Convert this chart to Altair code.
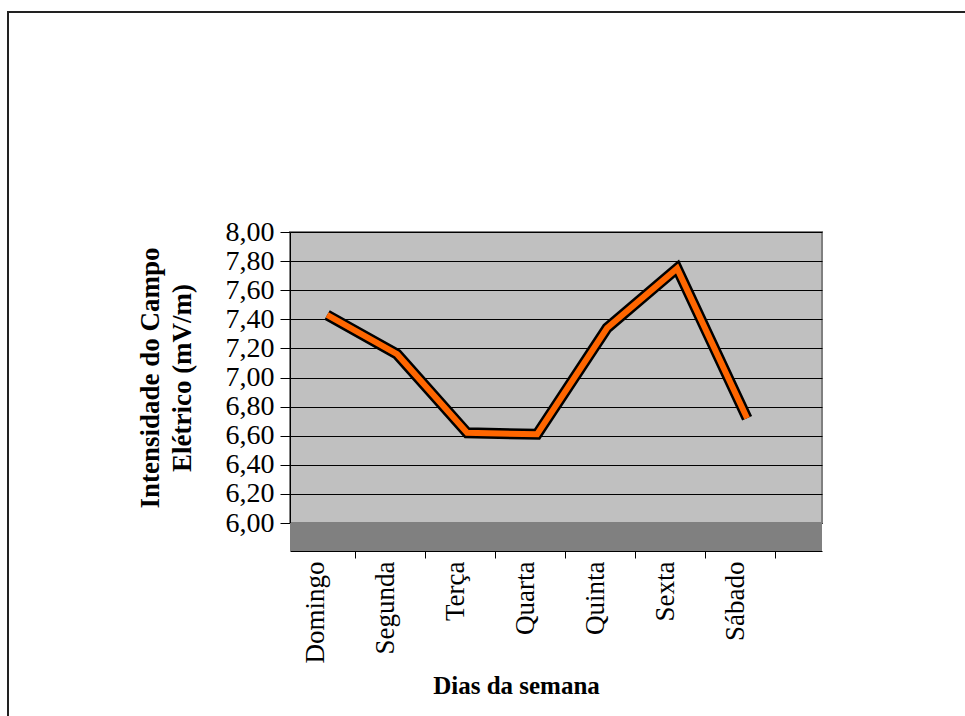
import altair as alt
import pandas as pd

# Daily electric field intensity (mV/m)
dias = ["Domingo", "Segunda", "Terça", "Quarta", "Quinta", "Sexta", "Sábado"]
intensidade = [7.43, 7.16, 6.62, 6.61, 7.34, 7.75, 6.72]
y_ticks = [6.0, 6.2, 6.4, 6.6, 6.8, 7.0, 7.2, 7.4, 7.6, 7.8, 8.0]

W, H = 532, 291
FLOOR = 28
FONT = "Liberation Serif"
LEFT, TOP = 290, 232

df = pd.DataFrame({"idx": list(range(len(dias))), "dia": dias, "valor": intensidade})

label_expr = "[" + ",".join("'" + d + "'" for d in dias) + "][datum.value]"

x_enc = alt.X(
    "idx:Q",
    scale=alt.Scale(domain=[-0.53, 7.07], nice=False, zero=False),
    axis=alt.Axis(
        values=list(range(len(dias))),
        tickCount=len(dias),
        labelExpr=label_expr,
        labelAngle=270,
        labelFont=FONT,
        labelFontSize=27,
        labelColor="black",
        labelPadding=3,
        labelOffset=-40,
        labelOverlap=False,
        offset=FLOOR,
        domainColor="black",
        tickColor="black",
        tickSize=7,
        tickOffset=28,
        grid=False,
        title="Dias da semana",
        titleFont=FONT,
        titleFontSize=25,
        titleFontWeight="bold",
        titleColor="black",
        titleX=516 - LEFT,
        titleAnchor="start",
        titleAlign="center",
        titlePadding=10,
    ),
)

y_enc = alt.Y(
    "valor:Q",
    scale=alt.Scale(domain=[6, 8], nice=False, zero=False),
    axis=alt.Axis(
        values=y_ticks,
        tickCount=len(y_ticks),
        labelExpr="replace(format(datum.value, '.2f'), '.', ',')",
        labelFont=FONT,
        labelFontSize=28,
        labelColor="black",
        labelPadding=6,
        labelOverlap=False,
        domainColor="black",
        tickColor="black",
        tickSize=10,
        grid=True,
        gridColor="black",
        gridWidth=1,
        title=["Intensidade do Campo", "Elétrico (mV/m)"],
        titleFont=FONT,
        titleFontSize=27,
        titleFontWeight="bold",
        titleColor="black",
        titleLineHeight=32,
        titlePadding=29,
    ),
)

base = alt.Chart(df)

# dark floor strip under the plotting wall
floor = alt.Chart(alt.Data(values=[{}])).mark_rect(color="#808080").encode(
    x=alt.value(0), x2=alt.value(W), y=alt.value(H), y2=alt.value(H + FLOOR)
)

# outer frame of the figure
frame = alt.Chart(alt.Data(values=[{}])).mark_rect(
    fillOpacity=0, stroke="#222222", strokeWidth=2
).encode(
    x=alt.value(8 - LEFT), x2=alt.value(W + 200), y=alt.value(12 - TOP), y2=alt.value(H + 300)
)

outline = base.mark_line(color="black", strokeWidth=11, strokeJoin="miter", strokeCap="butt").encode(
    x=x_enc, y=y_enc
)
ribbon = base.mark_line(color="#FF6600", strokeWidth=6, strokeJoin="miter", strokeCap="butt").encode(
    x="idx:Q", y="valor:Q"
)

chart = (
    alt.layer(floor, outline, ribbon, frame)
    .properties(
        width=W,
        height=H,
        autosize=alt.AutoSizeParams(type="none"),
        padding={"left": LEFT, "top": TOP, "right": 965 - LEFT - W, "bottom": 716 - TOP - H},
        background="white",
    )
    .configure_view(fill="#C0C0C0", stroke="#808080", strokeWidth=2)
)

chart.save("out.html", embed_options={"renderer": "svg", "actions": False})
